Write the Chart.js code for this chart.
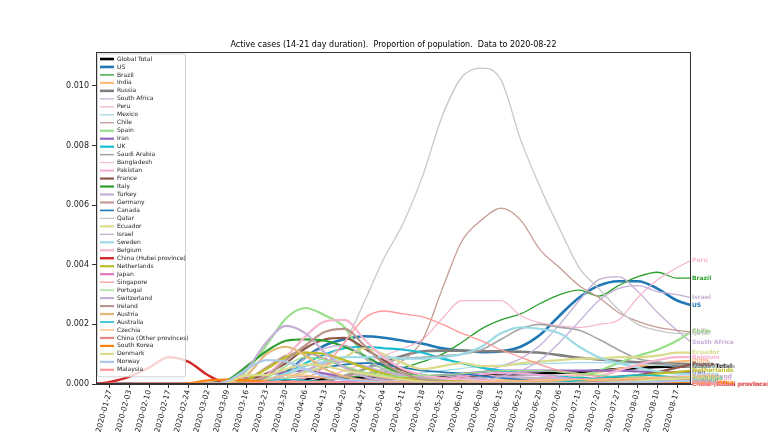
<!DOCTYPE html>
<html>
<head>
<meta charset="utf-8">
<script src="https://cdn.jsdelivr.net/npm/chart.js@4.4.0/dist/chart.umd.min.js"></script>
<style>
  html, body { margin: 0; padding: 0; background: #fff; }
  canvas { display: block; }
</style>
</head>
<body>
<canvas id="activeChart" width="768" height="432"></canvas>
<script>
// sample dates (weekly readings)
const sampleDates = [
    '2020-01-22', '2020-01-27', '2020-02-03', '2020-02-10', '2020-02-17', '2020-02-24',
    '2020-03-02', '2020-03-09', '2020-03-16', '2020-03-23', '2020-03-30', '2020-04-06',
    '2020-04-13', '2020-04-20', '2020-04-27', '2020-05-04', '2020-05-11', '2020-05-18',
    '2020-05-25', '2020-06-01', '2020-06-08', '2020-06-15', '2020-06-22', '2020-06-29',
    '2020-07-06', '2020-07-13', '2020-07-20', '2020-07-27', '2020-08-03', '2020-08-10',
    '2020-08-17', '2020-08-22'
];

const tickLabels = [
    '2020-01-27', '2020-02-03', '2020-02-10', '2020-02-17', '2020-02-24', '2020-03-02',
    '2020-03-09', '2020-03-16', '2020-03-23', '2020-03-30', '2020-04-06', '2020-04-13',
    '2020-04-20', '2020-04-27', '2020-05-04', '2020-05-11', '2020-05-18', '2020-05-25',
    '2020-06-01', '2020-06-08', '2020-06-15', '2020-06-22', '2020-06-29', '2020-07-06',
    '2020-07-13', '2020-07-20', '2020-07-27', '2020-08-03', '2020-08-10', '2020-08-17'
];

const yTickValues = [0, 0.002, 0.004, 0.006, 0.008, 0.010];

const countryNames = [
    'Global Total', 'US', 'Brazil', 'India', 'Russia', 'South Africa', 'Peru', 'Mexico',
    'Chile', 'Spain', 'Iran', 'UK', 'Saudi Arabia', 'Bangladesh', 'Pakistan', 'France',
    'Italy', 'Turkey', 'Germany', 'Canada', 'Qatar', 'Ecuador', 'Israel', 'Sweden',
    'Belgium', 'China (Hubei province)', 'Netherlands', 'Japan', 'Singapore', 'Portugal',
    'Switzerland', 'Ireland', 'Austria', 'Australia', 'Czechia', 'China (Other provinces)',
    'South Korea', 'Denmark', 'Norway', 'Malaysia'
];

// active cases per 1000 people, one value per sample date
const globalTotal = [0, 0.002, 0.005, 0.008, 0.01, 0.01, 0.01, 0.012, 0.025, 0.06, 0.1, 0.15, 0.18, 0.2, 0.21, 0.21, 0.21, 0.22, 0.23, 0.25, 0.27, 0.3, 0.33, 0.35, 0.38, 0.4, 0.45, 0.5, 0.54, 0.57, 0.59, 0.6];
const us = [0, 0, 0, 0, 0, 0, 0, 0.002, 0.01, 0.1, 0.4, 0.9, 1.3, 1.5, 1.6, 1.55, 1.45, 1.35, 1.2, 1.12, 1.07, 1.1, 1.25, 1.65, 2.3, 2.9, 3.3, 3.45, 3.45, 3.2, 2.8, 2.65];
const brazil = [0, 0, 0, 0, 0, 0, 0, 0, 0.001, 0.01, 0.03, 0.07, 0.12, 0.2, 0.3, 0.42, 0.55, 0.75, 1.0, 1.4, 1.85, 2.15, 2.35, 2.7, 3.0, 3.15, 2.95, 3.3, 3.6, 3.75, 3.55, 3.55];
const india = [0, 0, 0, 0, 0, 0, 0, 0, 0, 0, 0.001, 0.003, 0.006, 0.01, 0.014, 0.02, 0.03, 0.04, 0.06, 0.08, 0.1, 0.12, 0.15, 0.19, 0.24, 0.31, 0.4, 0.5, 0.6, 0.68, 0.75, 0.78];
const russia = [0, 0, 0, 0, 0, 0, 0, 0, 0, 0.003, 0.01, 0.04, 0.1, 0.25, 0.5, 0.75, 0.95, 1.1, 1.12, 1.12, 1.1, 1.1, 1.08, 1.05, 0.97, 0.88, 0.82, 0.77, 0.73, 0.7, 0.68, 0.66];
const southAfrica = [0, 0, 0, 0, 0, 0, 0, 0, 0.002, 0.01, 0.02, 0.03, 0.03, 0.04, 0.05, 0.07, 0.1, 0.16, 0.22, 0.3, 0.4, 0.6, 0.85, 1.3, 2.0, 2.8, 3.5, 3.6, 3.1, 2.4, 1.8, 1.4];
const peru = [0, 0, 0, 0, 0, 0, 0, 0, 0.002, 0.01, 0.05, 0.1, 0.25, 0.45, 0.7, 0.95, 1.2, 1.5, 2.2, 2.8, 2.8, 2.8, 2.3, 2.05, 1.95, 1.9, 2.0, 2.15, 2.9, 3.5, 3.9, 4.15];
const mexico = [0, 0, 0, 0, 0, 0, 0, 0, 0.001, 0.005, 0.015, 0.03, 0.06, 0.1, 0.15, 0.22, 0.3, 0.38, 0.45, 0.52, 0.6, 0.63, 0.65, 0.68, 0.7, 0.72, 0.72, 0.7, 0.68, 0.63, 0.6, 0.58];
const chile = [0, 0, 0, 0, 0, 0, 0, 0, 0.01, 0.1, 0.2, 0.25, 0.25, 0.28, 0.35, 0.5, 0.8, 1.5, 3.2, 4.8, 5.5, 5.9, 5.5, 4.5, 3.9, 3.3, 2.9, 2.4, 2.1, 1.9, 1.8, 1.75];
const spain = [0, 0, 0, 0, 0, 0, 0.01, 0.05, 0.45, 1.3, 2.2, 2.55, 2.3, 1.9, 0.9, 0.5, 0.35, 0.25, 0.15, 0.1, 0.08, 0.07, 0.08, 0.1, 0.15, 0.25, 0.45, 0.7, 0.95, 1.15, 1.45, 1.75];
const iran = [0, 0, 0, 0, 0, 0.001, 0.03, 0.1, 0.2, 0.3, 0.4, 0.45, 0.35, 0.25, 0.15, 0.15, 0.2, 0.25, 0.3, 0.35, 0.4, 0.45, 0.45, 0.45, 0.45, 0.45, 0.45, 0.45, 0.42, 0.4, 0.4, 0.4];
const uk = [0, 0, 0, 0, 0, 0, 0.001, 0.005, 0.02, 0.1, 0.35, 0.7, 1.0, 1.2, 1.25, 1.2, 1.15, 1.05, 0.85, 0.7, 0.55, 0.45, 0.35, 0.3, 0.25, 0.2, 0.2, 0.2, 0.2, 0.2, 0.2, 0.2];
const saudiArabia = [0, 0, 0, 0, 0, 0, 0, 0.001, 0.005, 0.02, 0.04, 0.06, 0.1, 0.3, 0.5, 0.7, 0.85, 0.9, 0.95, 1.0, 1.15, 1.5, 1.85, 2.0, 1.9, 1.8, 1.5, 1.15, 0.85, 0.75, 0.65, 0.6];
const bangladesh = [0, 0, 0, 0, 0, 0, 0, 0, 0, 0, 0.001, 0.002, 0.005, 0.01, 0.02, 0.04, 0.08, 0.12, 0.15, 0.2, 0.25, 0.3, 0.3, 0.3, 0.3, 0.28, 0.27, 0.25, 0.22, 0.2, 0.2, 0.2];
const pakistan = [0, 0, 0, 0, 0, 0, 0, 0, 0.001, 0.004, 0.01, 0.015, 0.02, 0.03, 0.04, 0.05, 0.07, 0.1, 0.15, 0.25, 0.32, 0.38, 0.36, 0.3, 0.22, 0.15, 0.1, 0.08, 0.06, 0.04, 0.03, 0.03];
const france = [0, 0, 0, 0, 0, 0, 0.003, 0.02, 0.1, 0.35, 0.7, 1.2, 1.5, 1.55, 1.2, 0.8, 0.45, 0.3, 0.2, 0.15, 0.12, 0.1, 0.1, 0.1, 0.12, 0.15, 0.2, 0.25, 0.3, 0.4, 0.55, 0.65];
const italy = [0, 0, 0, 0, 0, 0.005, 0.03, 0.13, 0.6, 1.1, 1.45, 1.5, 1.45, 1.25, 0.95, 0.6, 0.35, 0.22, 0.15, 0.1, 0.07, 0.05, 0.04, 0.04, 0.04, 0.04, 0.05, 0.05, 0.06, 0.08, 0.12, 0.15];
const turkey = [0, 0, 0, 0, 0, 0, 0, 0, 0.01, 0.05, 0.2, 0.45, 0.7, 0.75, 0.6, 0.4, 0.3, 0.22, 0.15, 0.15, 0.2, 0.25, 0.22, 0.2, 0.18, 0.16, 0.15, 0.15, 0.15, 0.17, 0.2, 0.2];
const germany = [0, 0, 0, 0, 0, 0, 0.002, 0.02, 0.15, 0.55, 0.95, 1.05, 0.85, 0.55, 0.35, 0.2, 0.15, 0.1, 0.08, 0.06, 0.05, 0.05, 0.06, 0.06, 0.05, 0.05, 0.06, 0.08, 0.1, 0.15, 0.2, 0.22];
const canada = [0, 0, 0, 0, 0, 0, 0, 0.002, 0.01, 0.05, 0.2, 0.4, 0.55, 0.65, 0.7, 0.65, 0.55, 0.45, 0.4, 0.35, 0.27, 0.2, 0.15, 0.1, 0.08, 0.08, 0.1, 0.1, 0.1, 0.1, 0.1, 0.1];
const qatar = [0, 0, 0, 0, 0, 0, 0, 0.05, 0.15, 0.18, 0.3, 0.6, 0.9, 1.4, 2.75, 4.2, 5.4, 7.0, 9.0, 10.3, 10.6, 10.2, 8.2, 6.6, 5.2, 3.9, 3.2, 2.5, 2.0, 1.8, 1.7, 1.7];
const ecuador = [0, 0, 0, 0, 0, 0, 0, 0, 0.002, 0.05, 0.2, 0.4, 0.6, 0.9, 1.2, 1.0, 0.7, 0.5, 0.6, 0.7, 0.6, 0.6, 0.7, 0.75, 0.8, 0.85, 0.85, 0.9, 0.9, 0.95, 1.05, 1.05];
const israel = [0, 0, 0, 0, 0, 0, 0, 0.002, 0.02, 0.1, 0.3, 0.9, 1.2, 1.3, 0.9, 0.5, 0.25, 0.1, 0.05, 0.05, 0.1, 0.25, 0.45, 0.8, 1.4, 2.1, 2.8, 3.2, 3.3, 3.1, 3.0, 2.9];
const sweden = [0, 0, 0, 0, 0, 0, 0.001, 0.02, 0.05, 0.15, 0.35, 0.6, 0.75, 0.9, 0.9, 0.9, 0.85, 0.85, 0.9, 1.0, 1.25, 1.7, 1.9, 1.85, 1.7, 1.25, 0.9, 0.7, 0.55, 0.42, 0.35, 0.33];
const belgium = [0, 0, 0, 0, 0, 0, 0.001, 0.01, 0.05, 0.3, 0.9, 1.6, 2.1, 2.15, 1.5, 0.9, 0.5, 0.3, 0.2, 0.15, 0.12, 0.1, 0.1, 0.1, 0.1, 0.12, 0.25, 0.45, 0.65, 0.8, 0.9, 0.9];
const hubei = [0, 0.07, 0.25, 0.55, 0.9, 0.75, 0.3, 0.02, 0.005, 0.002, 0.001, 0, 0, 0, 0, 0, 0, 0, 0, 0, 0, 0, 0, 0, 0, 0, 0, 0, 0, 0, 0, 0];
const netherlands = [0, 0, 0, 0, 0, 0, 0.002, 0.02, 0.15, 0.5, 0.9, 1.05, 1.0, 0.8, 0.55, 0.35, 0.2, 0.15, 0.1, 0.08, 0.06, 0.05, 0.05, 0.05, 0.05, 0.05, 0.08, 0.15, 0.25, 0.35, 0.4, 0.45];
const japan = [0, 0, 0, 0.001, 0.002, 0.005, 0.006, 0.007, 0.008, 0.01, 0.02, 0.04, 0.06, 0.07, 0.06, 0.04, 0.02, 0.01, 0.008, 0.006, 0.005, 0.006, 0.008, 0.012, 0.025, 0.04, 0.06, 0.09, 0.12, 0.12, 0.1, 0.09];
const singapore = [0, 0.001, 0.005, 0.01, 0.01, 0.008, 0.006, 0.01, 0.02, 0.05, 0.08, 0.2, 0.6, 1.4, 2.2, 2.45, 2.35, 2.25, 2.0, 1.7, 1.45, 1.15, 0.9, 0.65, 0.45, 0.35, 0.25, 0.15, 0.1, 0.08, 0.05, 0.05];
const portugal = [0, 0, 0, 0, 0, 0, 0, 0.002, 0.03, 0.2, 0.6, 0.9, 0.8, 0.6, 0.4, 0.3, 0.25, 0.3, 0.3, 0.35, 0.4, 0.45, 0.45, 0.45, 0.4, 0.35, 0.3, 0.25, 0.25, 0.2, 0.2, 0.2];
const switzerland = [0, 0, 0, 0, 0, 0, 0.01, 0.05, 0.5, 1.4, 1.95, 1.7, 1.05, 0.55, 0.25, 0.12, 0.06, 0.04, 0.03, 0.03, 0.03, 0.04, 0.06, 0.08, 0.1, 0.12, 0.15, 0.17, 0.2, 0.22, 0.25, 0.25];
const ireland = [0, 0, 0, 0, 0, 0, 0.001, 0.005, 0.05, 0.25, 0.8, 1.3, 1.75, 1.85, 1.3, 0.7, 0.35, 0.15, 0.08, 0.05, 0.03, 0.03, 0.03, 0.03, 0.03, 0.04, 0.05, 0.06, 0.08, 0.12, 0.15, 0.18];
const austria = [0, 0, 0, 0, 0, 0, 0.002, 0.02, 0.3, 1.0, 1.25, 0.95, 0.5, 0.25, 0.12, 0.06, 0.05, 0.04, 0.04, 0.04, 0.04, 0.05, 0.06, 0.08, 0.1, 0.12, 0.14, 0.15, 0.17, 0.18, 0.2, 0.2];
const australia = [0, 0, 0, 0, 0, 0, 0, 0.002, 0.02, 0.1, 0.15, 0.12, 0.06, 0.03, 0.01, 0.01, 0.01, 0.01, 0.01, 0.01, 0.01, 0.01, 0.02, 0.03, 0.06, 0.12, 0.2, 0.25, 0.3, 0.28, 0.22, 0.18];
const czechia = [0, 0, 0, 0, 0, 0, 0.001, 0.005, 0.03, 0.15, 0.3, 0.3, 0.2, 0.15, 0.1, 0.07, 0.05, 0.05, 0.05, 0.06, 0.08, 0.1, 0.12, 0.15, 0.15, 0.15, 0.16, 0.18, 0.2, 0.22, 0.24, 0.25];
const chinaOther = [0, 0.003, 0.015, 0.02, 0.015, 0.005, 0.002, 0.001, 0, 0, 0, 0, 0, 0, 0, 0, 0, 0, 0, 0, 0, 0, 0, 0, 0, 0, 0, 0, 0, 0, 0, 0];
const southKorea = [0, 0, 0, 0, 0.001, 0.02, 0.12, 0.15, 0.12, 0.08, 0.05, 0.04, 0.03, 0.02, 0.01, 0.01, 0.01, 0.01, 0.01, 0.01, 0.01, 0.02, 0.02, 0.02, 0.02, 0.02, 0.02, 0.01, 0.01, 0.01, 0.03, 0.05];
const denmark = [0, 0, 0, 0, 0, 0, 0.002, 0.05, 0.3, 0.3, 0.5, 0.65, 0.6, 0.45, 0.35, 0.25, 0.15, 0.08, 0.05, 0.05, 0.04, 0.03, 0.03, 0.03, 0.03, 0.03, 0.04, 0.06, 0.1, 0.15, 0.18, 0.2];
const norway = [0, 0, 0, 0, 0, 0, 0.005, 0.1, 0.5, 0.8, 0.75, 0.5, 0.25, 0.15, 0.1, 0.05, 0.03, 0.02, 0.02, 0.02, 0.02, 0.02, 0.02, 0.02, 0.02, 0.02, 0.03, 0.05, 0.06, 0.08, 0.1, 0.1];
const malaysia = [0, 0.001, 0.002, 0.002, 0.002, 0.001, 0.001, 0.005, 0.02, 0.06, 0.08, 0.07, 0.06, 0.04, 0.03, 0.02, 0.02, 0.01, 0.01, 0.01, 0.01, 0.01, 0.005, 0.005, 0.005, 0.005, 0.005, 0.005, 0.005, 0.005, 0.005, 0.005];

const seriesValues = [
    globalTotal, us, brazil, india, russia, southAfrica, peru, mexico, chile, spain,
    iran, uk, saudiArabia, bangladesh, pakistan, france, italy, turkey, germany, canada,
    qatar, ecuador, israel, sweden, belgium, hubei, netherlands, japan, singapore, portugal,
    switzerland, ireland, austria, australia, czechia, chinaOther, southKorea, denmark, norway, malaysia
];

// line styles, same order as countryNames
const lineColors = [
    '#000000', '#1f77b4', '#2ca02c', '#ffbb78', '#7f7f7f', '#c5b0d5', '#f7b6d2', '#9edae5',
    '#c49c94', '#98df8a', '#9467bd', '#17becf', '#a5a5a5', '#f7b6d2', '#f2a7d6', '#8c564b',
    '#2ca02c', '#c5b0d5', '#c49c94', '#1f77b4', '#c7c7c7', '#dbdb8d', '#c5b0d5', '#9edae5',
    '#f7b6d2', '#d62728', '#bcbd22', '#e377c2', '#ff9896', '#98df8a',
    '#c5b0d5', '#b9968c', '#e3b877', '#17becf', '#ffbb78', '#e88585',
    '#ff7f0e', '#dbdb8d', '#aec7e8', '#ff9896'
];
const lineWidths = [
    2.6, 2.6, 1.3, 2.2, 2.6, 1.3, 1.3, 1.2, 1.3, 2.2, 2.2, 2.2, 1.6, 1.1, 2.0, 2.2,
    2.2, 2.2, 2.2, 1.6, 1.3, 2.2, 1.3, 2.2, 2.2, 2.4, 2.2, 2.2, 1.3, 1.3,
    2.2, 2.2, 2.2, 1.6, 1.3, 2.2, 2.2, 2.2, 2.2, 2.2
];

const startDay = Date.parse('2020-01-22');
const dayOf = s => (Date.parse(s) - startDay) / 86400000;
const sampleDays = sampleDates.map(dayOf);
const tickDays = tickLabels.map(dayOf);

const datasets = countryNames.map((name, i) => ({
    label: name,
    data: sampleDays.map((d, j) => ({ x: d, y: seriesValues[i][j] / 1000 })),
    borderColor: lineColors[i],
    backgroundColor: lineColors[i],
    borderWidth: lineWidths[i],
    pointRadius: 0,
    cubicInterpolationMode: 'monotone',
    order: countryNames.length - i   // later series drawn on top, like matplotlib
}));

const FONT = 'DejaVu Sans';

// title centred over the plot area
const titlePlugin = {
    id: 'plotTitle',
    afterDraw(chart) {
        const { ctx, chartArea } = chart;
        ctx.save();
        ctx.font = `8px "${FONT}"`;
        ctx.fillStyle = '#000';
        ctx.textAlign = 'center';
        ctx.textBaseline = 'middle';
        ctx.fillText('Active cases (14-21 day duration).  Proportion of population.  Data to 2020-08-22',
            (chartArea.left + chartArea.right) / 2, 45);
        ctx.restore();
    }
};

// box round the plot (top and right spines too)
const framePlugin = {
    id: 'frame',
    afterDatasetsDraw(chart) {
        const { ctx, chartArea: a } = chart;
        ctx.save();
        ctx.strokeStyle = '#333';
        ctx.lineWidth = 1;
        ctx.strokeRect(a.left + 0.5, a.top + 0.5, a.right - a.left - 1, a.bottom - a.top - 1);
        ctx.restore();
    }
};

// legend box in the upper left corner of the plot
const legendPlugin = {
    id: 'boxLegend',
    afterDatasetsDraw(chart) {
        const { ctx, chartArea: a } = chart;
        const x0 = a.left + 1, y0 = a.top + 1.5, w = 88, rowH = 7.97;
        const h = rowH * countryNames.length + 4;
        ctx.save();
        ctx.fillStyle = 'rgba(255,255,255,0.8)';
        ctx.strokeStyle = 'rgba(204,204,204,0.9)';
        ctx.lineWidth = 1;
        ctx.beginPath();
        ctx.roundRect(x0 + 0.5, y0 + 0.5, w, h, 2);
        ctx.fill();
        ctx.stroke();
        ctx.font = `6px "${FONT}"`;
        ctx.textBaseline = 'middle';
        countryNames.forEach((name, i) => {
            const y = y0 + 5.5 + i * rowH;
            ctx.strokeStyle = lineColors[i];
            ctx.lineWidth = lineWidths[i];
            ctx.beginPath();
            ctx.moveTo(x0 + 3, y);
            ctx.lineTo(x0 + 17, y);
            ctx.stroke();
            ctx.fillStyle = '#222';
            ctx.fillText(name, x0 + 20, y);
        });
        ctx.restore();
    }
};

// country name at the end of every line
const endLabelPlugin = {
    id: 'endLabels',
    afterDraw(chart) {
        const { ctx, chartArea } = chart;
        ctx.save();
        ctx.font = `bold 6px "${FONT}"`;
        ctx.textBaseline = 'middle';
        chart.data.datasets.forEach((ds, i) => {
            const pts = chart.getDatasetMeta(i).data;
            const last = pts[pts.length - 1];
            ctx.fillStyle = ds.borderColor;
            ctx.fillText(ds.label, chartArea.right + 1, last.y);
        });
        ctx.restore();
    }
};

Chart.defaults.font.family = FONT;
Chart.defaults.color = '#222';

new Chart(document.getElementById('activeChart').getContext('2d'), {
    type: 'line',
    data: { datasets },
    options: {
        responsive: false,
        animation: false,
        devicePixelRatio: 1,
        layout: { padding: { top: 52, right: 77, bottom: 0, left: 0 } },
        plugins: {
            legend: { display: false },
            tooltip: { enabled: false },
            title: { display: false }
        },
        scales: {
            x: {
                type: 'linear',
                min: 0,
                max: 213,
                afterBuildTicks: scale => { scale.ticks = tickDays.map(v => ({ value: v })); },
                afterFit: scale => { scale.height = 48; },
                ticks: {
                    autoSkip: false,
                    minRotation: 75,
                    maxRotation: 75,
                    padding: 1,
                    font: { size: 7.5 },
                    callback: (value, index) => tickLabels[index]
                },
                grid: { drawOnChartArea: false, tickLength: 4, color: '#333' },
                border: { display: true, color: '#333' }
            },
            y: {
                min: 0,
                max: 0.01114,
                afterBuildTicks: scale => { scale.ticks = yTickValues.map(v => ({ value: v })); },
                afterFit: scale => { scale.width = 96; },
                ticks: {
                    padding: 3,
                    font: { size: 8 },
                    callback: value => value.toFixed(3)
                },
                grid: { drawOnChartArea: false, tickLength: 4, color: '#333' },
                border: { display: true, color: '#333' }
            }
        }
    },
    plugins: [titlePlugin, framePlugin, legendPlugin, endLabelPlugin]
});
</script>
</body>
</html>
